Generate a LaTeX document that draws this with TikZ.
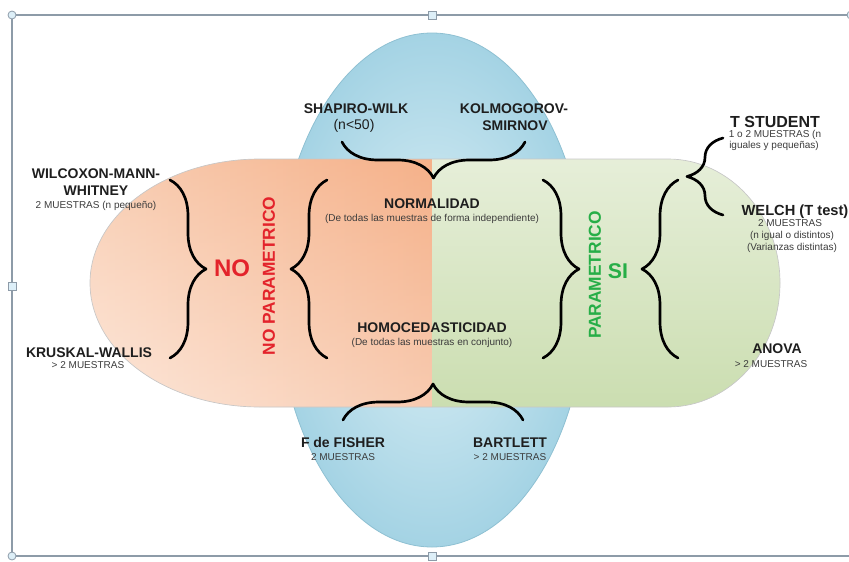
\documentclass[tikz,border=0pt]{standalone}
\usepackage{fontspec}
\setmainfont{Liberation Sans}
\usetikzlibrary{positioning, decorations.pathreplacing}

\definecolor{txt}{HTML}{1E1E1E}
\definecolor{notegrey}{HTML}{3C3C3C}
\definecolor{nored}{HTML}{E3232B}
\definecolor{sigreen}{HTML}{27AE47}
\definecolor{blueinner}{HTML}{DDF0F6}
\definecolor{blueouter}{HTML}{A4D3E4}
\definecolor{blueline}{HTML}{8EC0D2}
\definecolor{orangeleft}{HTML}{FBDECB}
\definecolor{orangeright}{HTML}{F5B088}
\definecolor{greentop}{HTML}{E7EFDA}
\definecolor{greenbot}{HTML}{CADDAF}
\definecolor{frameline}{HTML}{8D9BA8}
\definecolor{handlefill}{HTML}{DDEFF8}

\newcommand{\pillpath}{(260,159) -- (668,159) arc[start angle=90, end angle=-90, x radius=84pt, y radius=93pt] -- (260,407) arc[start angle=270, end angle=90, x radius=127.5pt, y radius=93pt] -- cycle}

\begin{document}
\begin{tikzpicture}[
        x=0.75pt, y=-0.75pt,
        title/.style={font=\fontsize{10.5}{12}\selectfont\bfseries, text=txt, inner sep=0pt, anchor=base},
        sub/.style={font=\fontsize{10.5}{12}\selectfont, text=txt, inner sep=0pt, anchor=base},
        note/.style={font=\fontsize{7.5}{9}\selectfont, text=notegrey, inner sep=0pt, anchor=base},
        bracket/.style={decorate, decoration={brace, amplitude=27pt}, line width=2pt, line cap=round, line join=round},
        handle/.style={draw=frameline, fill=handlefill, line width=0.6pt, inner sep=0pt, minimum size=6pt}
        ]
        \useasboundingbox (0,0) rectangle (849,561);

        % Frame
        \draw[frameline, line width=0.8pt] (12,15) rectangle (851,556);
        \node[handle] (hn) at (432,15) {};
        \node[handle] (hs) at (432,556) {};
        \node[handle] (hw) at (12,286) {};
        \node[handle, circle] (hnw) at (12,15) {};
        \node[handle, circle] (hne) at (851,15) {};
        \node[handle, circle] (hsw) at (12,556) {};

        % Shapes
        \shade[inner color=blueinner, outer color=blueouter] (432,290) ellipse[x radius=116.25pt, y radius=192.75pt];
        \draw[blueline, line width=0.6pt] (432,290) ellipse[x radius=116.25pt, y radius=192.75pt];
        \begin{scope}
            \clip \pillpath;
            \shade[left color=orangeleft, right color=orangeright] (80,150) rectangle (432,415);
            \shade[top color=orangeright, bottom color=white, opacity=0.35] (80,150) rectangle (432,415);
            \shade[top color=greentop, bottom color=greenbot] (432,150) rectangle (800,415);
        \end{scope}
        \draw[black!22, line width=0.5pt] \pillpath;

        % Nodes
        \node[title] (shapiro) at (356,113) {SHAPIRO-WILK};
        \node[sub] (shapiron) at (354,129) {(n<50)};
        \node[title] (kolmo) at (514,113) {KOLMOGOROV-};
        \node[title] (smirnov) at (515,130) {SMIRNOV};

        \node[title] (normal) at (432,208) {NORMALIDAD};
        \node[note] (normalnote) at (432,221) {(De todas las muestras de forma independiente)};
        \node[title] (homo) at (432,332) {HOMOCEDASTICIDAD};
        \node[note] (homonote) at (432,345) {(De todas las muestras en conjunto)};

        \node[title] (fisher) at (343,447) {F de FISHER};
        \node[note] (fishernote) at (343,460) {2 MUESTRAS};
        \node[title] (bartlett) at (510,447) {BARTLETT};
        \node[note] (bartlettnote) at (510,460) {> 2 MUESTRAS};

        \node[title] (wilcox) at (96,178) {WILCOXON-MANN-};
        \node[title] (whitney) at (96,195) {WHITNEY};
        \node[note] (wilcoxnote) at (96,208) {2 MUESTRAS (n pequeño)};
        \node[title] (kruskal) at (89,357) {KRUSKAL-WALLIS};
        \node[note] (kruskalnote) at (88,368) {> 2 MUESTRAS};

        \node[title, font=\fontsize{12}{14}\selectfont\bfseries] (tstudent) at (775,127) {T STUDENT};
        \node[note] (tstudentnote) at (775,137) {1 o 2 MUESTRAS (n};
        \node[note] (tstudentnote2) at (774,148) {iguales y pequeñas)};
        \node[title, font=\fontsize{11}{13}\selectfont\bfseries] (welch) at (795,215) {WELCH (T test)};
        \node[note] (welchnote) at (790,226) {2 MUESTRAS};
        \node[note] (welchnote2) at (792,238) {(n igual o distintos)};
        \node[note] (welchnote3) at (792,250) {(Varianzas distintas)};
        \node[title] (anova) at (777,353) {ANOVA};
        \node[note] (anovanote) at (771,367) {> 2 MUESTRAS};

        \node[font=\fontsize{18}{20}\selectfont\bfseries, text=nored, inner sep=0pt] (no) at (232,268) {NO};
        \node[font=\fontsize{13}{15}\selectfont\bfseries, text=nored, inner sep=0pt, rotate=90] (nopar) at (269,276) {NO PARAMETRICO};
        \node[font=\fontsize{13}{15}\selectfont\bfseries, text=sigreen, inner sep=0pt, rotate=90] (par) at (595,275) {PARAMETRICO};
        \node[font=\fontsize{16}{18}\selectfont\bfseries, text=sigreen, inner sep=0pt] (si) at (618,271) {SI};

        % Brace ends
        \coordinate (topR) at (525,142);
        \coordinate (topL) at (342,142);
        \coordinate (botL) at (343,420);
        \coordinate (botR) at (523,420);
        \coordinate (noA) at (170,180);
        \coordinate (noB) at (170,358);
        \coordinate (noparA) at (327,358);
        \coordinate (noparB) at (327,180);
        \coordinate (parA) at (543,180);
        \coordinate (parB) at (543,358);
        \coordinate (siA) at (678,358);
        \coordinate (siB) at (678,180);
        \coordinate (tA) at (723,215);
        \coordinate (tB) at (723,138);

        % Braces
        \draw[bracket] (topR) -- (topL);
        \draw[bracket] (botL) -- (botR);
        \draw[bracket] (noA) -- (noB);
        \draw[bracket] (noparA) -- (noparB);
        \draw[bracket] (parA) -- (parB);
        \draw[bracket] (siA) -- (siB);
        \draw[bracket] (tA) -- (tB);
    \end{tikzpicture}
\end{document}
